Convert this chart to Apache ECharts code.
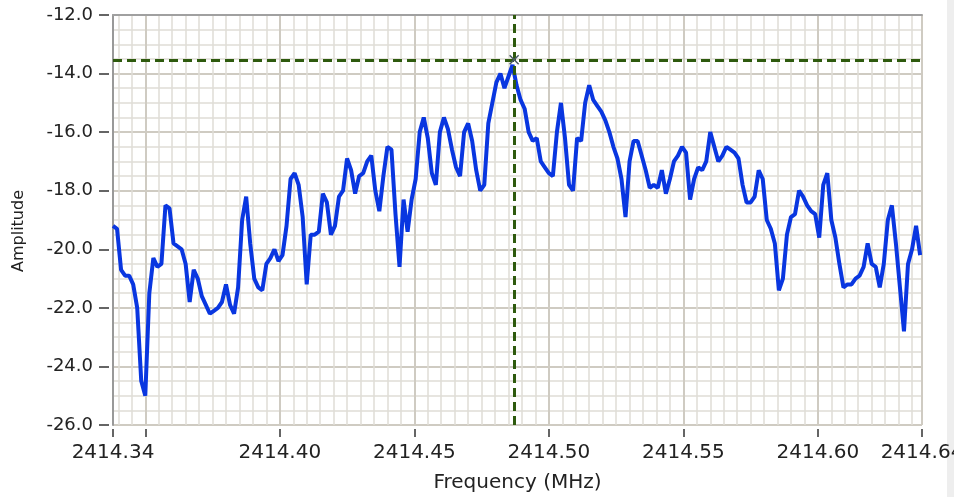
<!DOCTYPE html>
<html>
<head>
<meta charset="utf-8">
<script src="https://cdn.jsdelivr.net/npm/echarts@6/dist/echarts.min.js"></script>
<style>
  html, body { margin: 0; padding: 0; background: #ffffff; }
  #chart { width: 954px; height: 497px; }
</style>
</head>
<body>
<div id="chart"></div>
<script>
// Sweep settings (MHz)
const startFreq = 2414.338;
const stepFreq = 0.0015;

// Measured amplitude per sweep point
const amplitude = [
  -19.2, -19.3, -20.7, -20.9, -20.9, -21.2, -22.0, -24.5, -25.0, -21.5,
  -20.3, -20.6, -20.5, -18.5, -18.6, -19.8, -19.9, -20.0, -20.5, -21.8,
  -20.7, -21.0, -21.6, -21.9, -22.2, -22.1, -22.0, -21.8, -21.2, -21.9,
  -22.2, -21.3, -19.0, -18.2, -19.8, -21.0, -21.3, -21.4, -20.5, -20.3,
  -20.0, -20.4, -20.2, -19.2, -17.6, -17.4, -17.8, -18.9, -21.2, -19.5,
  -19.5, -19.4, -18.1, -18.4, -19.5, -19.2, -18.2, -18.0, -16.9, -17.3,
  -18.1, -17.5, -17.4, -17.0, -16.8, -18.0, -18.7, -17.5, -16.5, -16.6,
  -18.8, -20.6, -18.3, -19.4, -18.3, -17.6, -16.0, -15.5, -16.2, -17.4,
  -17.8, -16.0, -15.5, -15.9, -16.6, -17.2, -17.5, -16.0, -15.7, -16.3,
  -17.3, -18.0, -17.8, -15.7, -15.0, -14.3, -14.0, -14.5, -14.1, -13.7,
  -14.4, -14.9, -15.2, -16.0, -16.3, -16.2, -17.0, -17.2, -17.4, -17.5,
  -16.0, -15.0, -16.2, -17.8, -18.0, -16.2, -16.3, -15.0, -14.4, -14.9,
  -15.1, -15.3, -15.6, -16.0, -16.5, -16.9, -17.6, -18.9, -17.0, -16.3,
  -16.3, -16.8, -17.3, -17.9, -17.8, -17.9, -17.3, -18.1, -17.6, -17.0,
  -16.8, -16.5, -16.7, -18.3, -17.6, -17.2, -17.3, -17.0, -16.0, -16.5,
  -17.0, -16.8, -16.5, -16.6, -16.7, -16.9, -17.8, -18.4, -18.4, -18.2,
  -17.3, -17.6, -19.0, -19.3, -19.8, -21.4, -21.0, -19.5, -18.9, -18.8,
  -18.0, -18.2, -18.5, -18.7, -18.8, -19.6, -17.8, -17.4, -19.0, -19.6,
  -20.5, -21.3, -21.2, -21.2, -21.0, -20.9, -20.6, -19.8, -20.5, -20.6,
  -21.3, -20.5, -19.0, -18.5, -19.8, -21.3, -22.8, -20.5, -20.0, -19.2,
  -20.2
];

// Axis ranges
const freqMin = 2414.338;
const freqMax = 2414.6387;
const ampMin = -26;
const ampMax = -12;
const ampStep = 2;

// Cursor position
const cursorFreq = 2414.4871;
const cursorAmp = -13.53;

const points = amplitude.map((a, i) => [startFreq + i * stepFreq, a]);

const FONT = 'DejaVu Sans';
const TEXT = '#222222';
const MINOR = '#e0ddd6';
const MAJOR = '#cfcbc2';
const CURSOR = '#2e5a0e';

const chart = echarts.init(document.getElementById('chart'), null, { renderer: 'canvas' });

chart.setOption({
  animation: false,
  backgroundColor: '#ffffff',
  grid: { left: 113, right: 32, top: 15, bottom: 72, containLabel: false, outerBoundsMode: 'none' },
  graphic: [
    { type: 'rect', shape: { x: 947, y: 0, width: 7, height: 497 }, style: { fill: '#eeeeee' }, silent: true }
  ],
  xAxis: [
    {
      type: 'value',
      min: freqMin,
      max: freqMax,
      splitNumber: 6,
      offset: 4,
      name: 'Frequency (MHz)',
      nameLocation: 'middle',
      nameGap: 44,
      nameTextStyle: { fontFamily: FONT, fontSize: 20, color: TEXT },
      axisLine: { show: false },
      axisTick: { show: true, length: 8, lineStyle: { color: '#333333', width: 1.5 } },
      axisLabel: {
        show: true,
        margin: 14,
        fontFamily: FONT,
        fontSize: 20,
        color: TEXT,
        formatter: (v) => (Math.abs(v - 2414.35) < 1e-6 ? '' : v.toFixed(2))
      },
      splitLine: { show: true, lineStyle: { color: MAJOR, width: 2 } },
      minorTick: { show: false, splitNumber: 10 },
      minorSplitLine: { show: true, lineStyle: { color: MINOR, width: 1.5 } }
    },
    {
      type: 'value',
      position: 'top',
      min: freqMin,
      max: freqMax,
      axisLine: { show: true, lineStyle: { color: '#a0a0a0', width: 2 } },
      axisTick: { show: false },
      axisLabel: { show: false },
      splitLine: { show: false }
    }
  ],
  yAxis: [
    {
      type: 'value',
      min: ampMin,
      max: ampMax,
      interval: ampStep,
      offset: 4,
      name: 'Amplitude',
      nameLocation: 'middle',
      nameGap: 82,
      nameRotate: 90,
      nameTextStyle: { fontFamily: FONT, fontSize: 16, color: TEXT, padding: [0, 22, 0, 0] },
      axisLine: { show: false },
      axisTick: { show: true, length: 10, lineStyle: { color: '#333333', width: 1.5 } },
      axisLabel: {
        margin: 16,
        fontFamily: FONT,
        fontSize: 18,
        color: TEXT,
        formatter: (v) => v.toFixed(1)
      },
      splitLine: { show: true, lineStyle: { color: MAJOR, width: 2 } },
      minorTick: { show: false, splitNumber: 4 },
      minorSplitLine: { show: true, lineStyle: { color: MINOR, width: 1.5 } }
    },
    {
      type: 'value',
      position: 'left',
      min: ampMin,
      max: ampMax,
      interval: ampStep,
      axisLine: { show: true, lineStyle: { color: '#999999', width: 2 } },
      axisTick: { show: false },
      axisLabel: { show: false },
      splitLine: { show: false }
    }
  ],
  series: [
    {
      type: 'line',
      xAxisIndex: 0,
      yAxisIndex: 0,
      data: points,
      showSymbol: false,
      lineStyle: { color: '#0936e0', width: 4 },
      z: 3,
      markLine: {
        silent: true,
        symbol: ['none', 'none'],
        label: { show: false },
        lineStyle: { color: CURSOR, width: 3, type: [9, 5] },
        data: [
          [{ coord: [cursorFreq, ampMin] }, { coord: [cursorFreq, ampMax] }],
          [{ coord: [freqMin, cursorAmp] }, { coord: [freqMax, cursorAmp] }]
        ]
      },
      markPoint: {
        silent: true,
        symbol: 'path://M0 0L10 10M10 0L0 10',
        symbolSize: 9,
        label: { show: false },
        itemStyle: { color: 'none', borderColor: '#4a5a66', borderWidth: 1.5 },
        data: [{ coord: [cursorFreq, cursorAmp] }]
      }
    }
  ]
});
</script>
</body>
</html>
